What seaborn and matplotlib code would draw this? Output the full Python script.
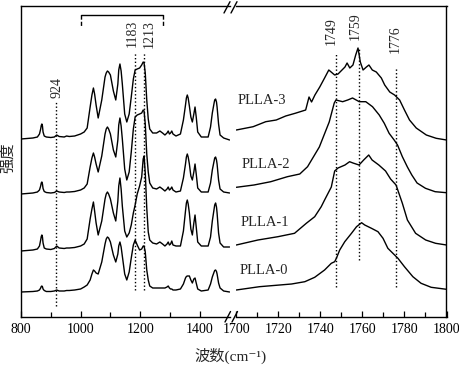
import matplotlib
matplotlib.use("Agg")
import matplotlib.pyplot as plt
from matplotlib.lines import Line2D
import pandas as pd
import seaborn as sns

# ---------------- data ----------------
samples = ["PLLA-3", "PLLA-2", "PLLA-1", "PLLA-0"]
offsets = [178, 123, 66, 25]          # stacking offsets (arb. units)

left_wn = [800, 840, 855, 862, 866, 868, 870, 872, 874, 878,
           885, 900, 912, 920, 928, 945, 953, 962, 980, 1000,
           1012, 1022, 1032, 1038, 1043, 1047, 1052, 1059, 1071, 1082,
           1086, 1090, 1094, 1100, 1110, 1118, 1125, 1128, 1132, 1136,
           1140, 1148, 1155, 1163, 1170, 1177, 1183, 1190, 1198, 1205,
           1210, 1213, 1217, 1222, 1227, 1232, 1242, 1255, 1266, 1275,
           1283, 1290, 1294, 1298, 1302, 1306, 1310, 1320, 1335, 1345,
           1352, 1355, 1358, 1361, 1365, 1370, 1375, 1380, 1384, 1388,
           1393, 1405, 1428, 1436, 1442, 1448, 1450, 1453, 1456, 1458,
           1463, 1468, 1480, 1500]
left_p3 = [0, 1, 2, 5, 10, 13.5, 15, 13, 7, 3,
           2, 1.5, 2, 4, 2.5, 2, 3, 2.5, 3, 5,
           7, 11, 32, 44, 51, 45, 34, 21, 39, 62,
           66, 68, 67, 64, 48, 39, 55, 69, 75, 68,
           55, 25, 17, 25, 42, 60, 69, 70, 71, 74,
           77, 76, 66, 39, 20, 10, 6, 6, 8, 6,
           4, 6, 8, 5, 6, 8, 5, 3, 5, 19,
           34, 41, 44, 41, 33, 22, 17, 25, 32, 22,
           7, 2, 2, 12, 26, 36, 39, 40, 37, 32,
           15, 4, 1, -1]
left_p2 = [0, 1, 2, 4, 8, 11, 12, 10, 5.5, 2.5,
           1.5, 1, 1.5, 3, 2, 1.5, 2, 2, 2.5, 4,
           6, 10, 27, 36, 41, 37, 30, 22, 38, 60,
           65, 67, 65, 60, 44, 37, 54, 69, 76, 68,
           55, 25, 14, 22, 42, 65, 77, 79, 80, 81,
           84, 83, 70, 40, 22, 11, 6, 5, 7, 5,
           3, 5, 7, 4, 5, 7, 4, 2, 3, 16,
           30, 37, 40, 37, 30, 18, 14, 22, 30, 20,
           6, 2, 2, 11, 24, 33, 36, 37, 34, 30,
           14, 5, 2, 1]
left_p1 = [0, 1, 2, 5, 11, 14.5, 16, 14, 8, 3,
           2, 1.5, 2.5, 5, 3, 2.5, 3, 3, 3.5, 5,
           7, 12, 32, 42, 49, 40, 28, 16, 30, 52,
           57, 59, 57, 52, 38, 30, 50, 65, 73, 62,
           45, 20, 14, 18, 26, 38, 46, 57, 65, 74,
           92, 95, 78, 43, 19, 11, 8, 7, 9, 7,
           5, 7, 9, 6, 7, 10, 6, 5, 5, 20,
           40, 48, 51, 47, 38, 22, 16, 28, 36, 24,
           9, 5, 5, 14, 30, 42, 46, 48, 44, 38,
           18, 8, 4, 4]
left_p0 = [0, 0.5, 1, 2, 4, 5.5, 6, 5.2, 3, 1.5,
           0.5, 0.5, 1, 2, 1, 1, 1.5, 1.5, 2, 3,
           5, 7, 12, 18, 22, 21, 19, 18, 30, 48,
           53, 55, 54, 50, 37, 30, 38, 46, 50, 45,
           36, 18, 12, 20, 34, 47, 52, 47, 42, 43,
           46, 46, 40, 22, 12, 6, 4, 4, 4, 4,
           4, 5, 6, 4, 3, 3, 2, 2, 3, 8,
           14, 15.5, 16, 16, 16, 12, 9, 13, 14, 9,
           3, 1, 2, 8, 15, 20, 21.5, 22, 20.5, 18,
           9, 4, 1, 0]

right_p3_wn = [1700, 1708, 1714, 1719, 1723.5, 1728, 1733, 1734.6, 1735.8, 1737.4,
               1739.7, 1742, 1744, 1746.8, 1748.4, 1751.7, 1752.7, 1754, 1755.5, 1756.8,
               1757.9, 1759, 1760.3, 1761.9, 1763.1, 1764.7, 1766.6, 1769, 1770.6, 1773,
               1775.3, 1777.7, 1780, 1782.4, 1785.6, 1790.4, 1795.1, 1800]
right_p3 = [9, 12.3, 17.3, 19, 23, 25.7, 29, 42, 37, 44,
            52, 61, 69, 64, 65, 72, 76, 71, 74, 84,
            91, 77, 69, 72, 74, 69, 67, 61, 54, 47,
            44, 39, 29, 19, 11, 4, 0.7, -1]
right_p2_wn = [1700, 1708.4, 1716.4, 1724.3, 1730.2, 1733.9, 1739.5, 1744.2, 1746.6, 1747.4,
               1750.6, 1753, 1755.3, 1758.5, 1761.6, 1764.8, 1768, 1770.4, 1772.7, 1775.1,
               1776.7, 1779, 1781.4, 1783.5, 1786, 1790, 1794.6, 1800]
right_p2 = [6.7, 9, 12.3, 17.3, 20, 27.3, 47, 72, 91, 94,
            92.3, 94, 96, 92.3, 92.3, 87.3, 79, 70.7, 60.7, 54,
            49, 37.3, 27, 19, 11, 5.7, 2.3, 1.3]
right_p1_wn = [1700, 1710.3, 1719.8, 1727.7, 1733.3, 1737.3, 1740.4, 1742, 1745.2, 1746.8,
               1748.4, 1751.7, 1753.9, 1755.5, 1758.4, 1760.6, 1763, 1764.6, 1767.8, 1771,
               1773.4, 1776, 1779, 1781.4, 1785.3, 1790.1, 1794.8, 1800]
right_p1 = [6, 11, 14.3, 17.7, 27.7, 34.3, 44.3, 51, 64, 80,
            83, 86, 89.3, 88, 86, 91, 96, 91, 86, 80,
            72, 66, 47.7, 31, 17.7, 11, 7.7, 6]
right_p0_wn = [1700, 1711, 1726.3, 1732.6, 1737.3, 1742, 1745.2, 1746.8, 1747.6, 1749.2,
               1751.6, 1754.8, 1757.2, 1759.6, 1761.1, 1764.3, 1767.4, 1769.8, 1772.1, 1774.5,
               1776.9, 1780, 1784, 1787.9, 1792.7, 1800]
right_p0 = [2, 5.3, 8, 10.3, 14.7, 22, 28.7, 30.3, 33.7, 42,
            50.3, 58.7, 65.3, 69.3, 67, 63.7, 60.3, 53.7, 43.7, 38.7,
            33.7, 25.3, 15.3, 8.7, 4.7, 2.7]

left_ticks = [800, 1000, 1200, 1400]
left_minor = [900, 1100, 1300]
right_ticks = [1700, 1720, 1740, 1760, 1780, 1800]
right_minor = [1710, 1730, 1750, 1770, 1790]

left_peak_text = ["924", "1183", "1213"]
left_peak_pos = [918, 1182.5, 1213.5]
right_peak_text = ["1749", "1759", "1776"]
right_peak_pos = [1747.5, 1758.3, 1776]

# ---------------- style ----------------
sns.set_style("white")
plt.rcParams["font.family"] = ["Liberation Serif", "Noto Sans CJK SC", "DejaVu Sans"]
plt.rcParams["axes.linewidth"] = 1.0

W, H = 460, 369
fig = plt.figure(figsize=(W / 100, H / 100), dpi=100)

def fx(px):
    return px / W

def fy(py):
    return 1 - py / H

ax_bottom = fy(317)
ax_h = fy(6) - fy(317)
ax1 = fig.add_axes([fx(21), ax_bottom, fx(229.6) - fx(21), ax_h])
ax2 = fig.add_axes([fx(236.3), ax_bottom, fx(446.5) - fx(236.3), ax_h])

left_sets = [left_p3, left_p2, left_p1, left_p0]
right_sets = [(right_p3_wn, right_p3), (right_p2_wn, right_p2),
              (right_p1_wn, right_p1), (right_p0_wn, right_p0)]

rows_l = []
for s, off, h in zip(samples, offsets, left_sets):
    for w, v in zip(left_wn, h):
        rows_l.append({"wn": w, "I": v + off, "sample": s})
df_l = pd.DataFrame(rows_l)
rows_r = []
for s, off, (ws, h) in zip(samples, offsets, right_sets):
    for w, v in zip(ws, h):
        rows_r.append({"wn": w, "I": v + off, "sample": s})
df_r = pd.DataFrame(rows_r)

pal = {s: "black" for s in samples}
sns.lineplot(data=df_l, x="wn", y="I", hue="sample", units="sample", estimator=None,
             palette=pal, legend=False, lw=1.0, ax=ax1)
sns.lineplot(data=df_r, x="wn", y="I", hue="sample", units="sample", estimator=None,
             palette=pal, legend=False, lw=1.0, ax=ax2)

for ax in (ax1, ax2):
    ax.set_ylim(0, 311)
    ax.set_xlabel("")
    ax.set_ylabel("")
    ax.set_yticks([])
    ax.tick_params(axis="x", which="both", direction="in", top=False, bottom=True,
                   labelsize=10, pad=4, width=0.9, colors="black")
    ax.tick_params(axis="x", which="major", length=4)
    ax.tick_params(axis="x", which="minor", length=3.5)
    for sp in ax.spines.values():
        sp.set_color("black")

ax1.set_xlim(800, 1500)
ax1.set_xticks(left_ticks)
ax1.set_xticks(left_minor, minor=True)
ax1.spines["right"].set_visible(False)
ax2.set_xlim(1700, 1800)
ax2.set_xticks(right_ticks)
ax2.set_xticks(right_minor, minor=True)
ax2.spines["left"].set_visible(False)

dot = (0, (1, 1.6))
# peak marker lines (left)
ax1.plot([left_peak_pos[0]] * 2, [11, 216], color="black", lw=1.0, ls=dot)
ax1.plot([left_peak_pos[1]] * 2, [27, 264], color="black", lw=1.0, ls=dot)
ax1.plot([left_peak_pos[2]] * 2, [27, 264], color="black", lw=1.0, ls=dot)
ax1.text(920.8, 219, left_peak_text[0], rotation=90, ha="center", va="bottom", fontsize=10)
ax1.text(1174, 270, left_peak_text[1], rotation=90, ha="center", va="bottom", fontsize=10)
ax1.text(1231, 269, left_peak_text[2], rotation=90, ha="center", va="bottom", fontsize=10)

# bracket
ax1.plot([1001, 1277.5], [302, 302], color="black", lw=1.0)
ax1.plot([1001, 1001], [302, 290], color="black", lw=1.0, ls=(0, (3, 1.5)))
ax1.plot([1277.5, 1277.5], [302, 290], color="black", lw=1.0, ls=(0, (3, 1.5)))

# peak marker lines (right)
ax2.plot([right_peak_pos[0]] * 2, [30, 264], color="black", lw=1.0, ls=dot)
ax2.plot([right_peak_pos[1]] * 2, [57, 269], color="black", lw=1.0, ls=dot)
ax2.plot([right_peak_pos[2]] * 2, [30, 249], color="black", lw=1.0, ls=dot)
ax2.text(1745.3, 272, right_peak_text[0], rotation=90, ha="center", va="bottom", fontsize=10)
ax2.text(1756.7, 277, right_peak_text[1], rotation=90, ha="center", va="bottom", fontsize=10)
ax2.text(1775.8, 263.7, right_peak_text[2], rotation=90, ha="center", va="bottom", fontsize=10)

# sample labels
label_x = [1712.4, 1714.1, 1713.6, 1712.9]
label_y = [216, 153, 94.5, 47]
for s, xx, yy in zip(samples, label_x, label_y):
    ax2.text(xx, yy, s, ha="center", va="center", fontsize=10.5)

# axis-break marks
for (x0, y0, x1, y1) in [(224, 13, 230, 1.7), (231, 13, 237, 1.7),
                         (225, 322, 230.5, 311.5), (232, 322, 237.5, 311.5)]:
    fig.add_artist(Line2D([fx(x0), fx(x1)], [fy(y0), fy(y1)], color="black", lw=1.0,
                          transform=fig.transFigure))

fig.text(fx(230), fy(356), "波数(cm⁻¹)", ha="center", va="center", fontsize=11)
fig.text(fx(8), fy(158), "强度", ha="center", va="center", rotation=90, fontsize=11)

fig.savefig("out.png", dpi=100)
